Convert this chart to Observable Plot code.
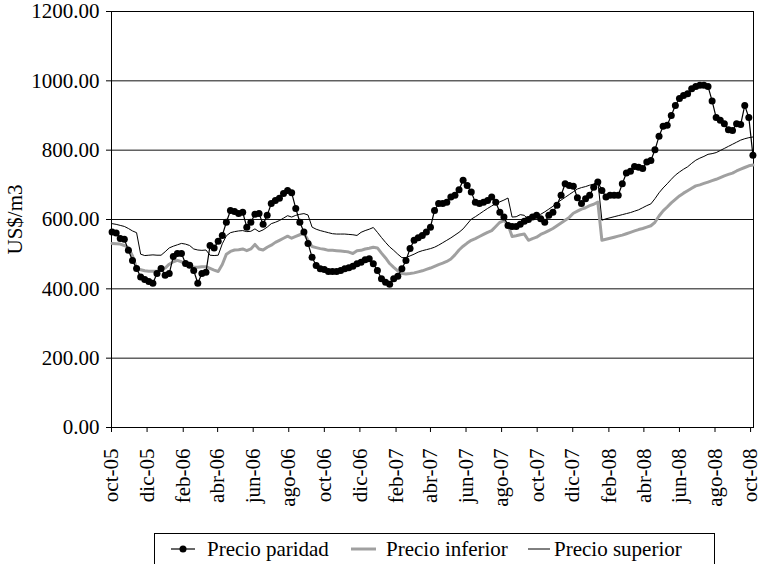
<!DOCTYPE html>
<html>
<head>
<meta charset="utf-8">
<script src="https://cdn.jsdelivr.net/npm/d3@7"></script>
<script src="https://cdn.jsdelivr.net/npm/@observablehq/plot@0.6"></script>
<style>
  html, body { margin: 0; padding: 0; background: #fff; }
  #wrap { position: relative; width: 763px; height: 564px; overflow: hidden; font-family: "Liberation Serif", "Times New Roman", serif; }
  #legend { position: absolute; left: 154px; top: 533px; width: 561px; height: 40px; border: 1px solid #000; box-sizing: border-box; font-size: 21px; color: #000; }
  #legend .item { position: absolute; top: 2px; height: 26px; line-height: 26px; white-space: nowrap; }
  #legend svg { position: absolute; top: 2px; }
</style>
</head>
<body>
<div id="wrap"></div>
<script>
// Weekly series (first week 2005-10-02)
const startDate = "2005-10-02";
const paridad = [
  564, 561, 545, 543, 511, 482, 459, 434, 427, 421,
  416, 444, 459, 439, 444, 493, 502, 502, 473, 468,
  453, 416, 444, 448, 525, 518, 537, 554, 592, 626,
  623, 617, 621, 578, 592, 615, 617, 586, 612, 646,
  655, 661, 675, 684, 677, 632, 592, 564, 531, 491,
  467, 458, 456, 450, 450, 450, 453, 458, 461, 465,
  472, 477, 484, 487, 472, 453, 429, 419, 413, 429,
  436, 458, 482, 516, 540, 547, 554, 564, 578, 626,
  646, 646, 650, 665, 670, 686, 713, 698, 679, 650,
  646, 650, 655, 665, 650, 621, 607, 583, 580, 580,
  586, 595, 600, 607, 612, 602, 592, 612, 621, 641,
  670, 703, 698, 696, 663, 646, 660, 670, 693, 708,
  684, 665, 670, 670, 670, 703, 734, 739, 753, 751,
  747, 766, 770, 801, 840, 869, 872, 900, 929, 949,
  958, 963, 977, 984, 987, 987, 984, 942, 894, 886,
  876, 859, 857, 876, 874, 929, 894, 785
];
const inferior = [
  531, 530, 529, 525, 519, 495, 460, 455, 452, 451,
  451, 451, 454, 460, 471, 478, 482, 478, 472, 467,
  462, 462, 464, 464, 459, 454, 450, 470, 500, 508,
  512, 513, 515, 510, 515, 528, 515, 512, 520, 526,
  534, 540, 546, 552, 546, 551, 556, 561, 540, 522,
  519, 516, 514, 511, 511, 510, 509, 508, 506, 502,
  510, 511, 515, 517, 520, 518, 503, 489, 473, 462,
  452, 444, 443, 444, 446, 449, 452, 456, 460, 465,
  470, 474, 479, 486, 498, 512, 523, 532, 540, 545,
  551, 557, 563, 568, 580, 592, 597, 585, 551, 553,
  556, 558, 540, 545, 549, 557, 562, 568, 574, 582,
  590, 598, 606, 618, 624, 630, 634, 640, 644, 650,
  540, 543, 546, 549, 552, 555, 559, 563, 567, 571,
  574, 578, 582, 592, 610, 625, 636, 648, 658, 668,
  676, 683, 690, 697, 700, 704, 708, 712, 716, 721,
  726, 730, 734, 740, 745, 750, 755, 757
];
const superior = [
  588, 586, 583, 580, 574, 567, 562, 500, 496, 497,
  498, 497, 497, 507, 518, 523, 527, 531, 529, 525,
  515, 512, 511, 512, 497, 496, 497, 530, 553, 562,
  565, 567, 568, 565, 566, 573, 565, 570, 578, 588,
  592, 597, 604, 611, 607, 612, 615, 617, 613, 578,
  572, 568, 565, 562, 559, 558, 558, 558, 557, 556,
  554, 563, 568, 572, 577, 563, 548, 534, 521, 511,
  500, 490, 490, 495, 500, 506, 510, 513, 516, 520,
  526, 533, 540, 547, 555, 563, 573, 587, 601, 608,
  616, 624, 632, 639, 646, 651, 656, 662, 607, 608,
  614, 612, 599, 606, 610, 615, 622, 630, 638, 648,
  656, 664, 672, 680, 688, 692, 695, 699, 702, 712,
  598, 602, 605, 608, 611, 614, 617, 620, 624, 628,
  634, 640, 645, 660, 677, 691, 703, 716, 728, 737,
  745, 752, 762, 771, 777, 782, 788, 790, 793, 799,
  805, 811, 817, 823, 829, 833, 836, 838
];
const xTickDates = [
  "2005-10-01", "2005-12-01", "2006-02-01", "2006-04-01", "2006-06-01", "2006-08-01",
  "2006-10-01", "2006-12-01", "2007-02-01", "2007-04-01", "2007-06-01", "2007-08-01",
  "2007-10-01", "2007-12-01", "2008-02-01", "2008-04-01", "2008-06-01", "2008-08-01",
  "2008-10-01"
];
const xTickLabels = [
  "oct-05", "dic-05", "feb-06", "abr-06", "jun-06", "ago-06",
  "oct-06", "dic-06", "feb-07", "abr-07", "jun-07", "ago-07",
  "oct-07", "dic-07", "feb-08", "abr-08", "jun-08", "ago-08",
  "oct-08"
];
const yTicks = [0, 200, 400, 600, 800, 1000, 1200];
const seriesNames = ["Precio paridad", "Precio inferior", "Precio superior"];
const yLabel = "US$/m3";

const start = new Date(startDate + "T00:00:00Z");
const rows = paridad.map((v, i) => ({
  date: d3.utcDay.offset(start, 7 * i),
  paridad: v,
  inferior: inferior[i],
  superior: superior[i]
}));
const tickDates = xTickDates.map(s => new Date(s + "T00:00:00Z"));
const labelOf = new Map(tickDates.map((d, i) => [+d, xTickLabels[i]]));

const chart = Plot.plot({
  width: 763,
  height: 564,
  marginLeft: 111,
  marginRight: 10,
  marginTop: 11,
  marginBottom: 137,
  style: { fontFamily: "'Liberation Serif', 'Times New Roman', serif", fontSize: "21px", color: "#000", background: "#fff", overflow: "visible" },
  x: { type: "utc", domain: [new Date("2005-10-01T00:00:00Z"), new Date("2008-10-06T00:00:00Z")] },
  y: { domain: [0, 1200] },
  marks: [
    Plot.ruleY(yTicks.filter(d => d > 0 && d < 1200), { stroke: "#111", strokeWidth: 1 }),
    Plot.frame({ stroke: "#000", strokeWidth: 1 }),
    Plot.axisY({ ticks: yTicks, tickFormat: d3.format(".2f"), tickSize: 5, tickPadding: 7, label: yLabel, labelAnchor: "center", labelArrow: "none", labelOffset: 104, stroke: "#000" }),
    Plot.axisX({ ticks: tickDates, tickFormat: d => labelOf.get(+d), tickRotate: -90, tickSize: 5, tickPadding: 16, label: null, stroke: "#000" }),
    Plot.line(rows, { x: "date", y: "inferior", stroke: "#a0a0a0", strokeWidth: 3 }),
    Plot.line(rows, { x: "date", y: "superior", stroke: "#000", strokeWidth: 1 }),
    Plot.line(rows, { x: "date", y: "paridad", stroke: "#000", strokeWidth: 1.2 }),
    Plot.dot(rows, { x: "date", y: "paridad", r: 3.5, fill: "#000" })
  ]
});

const wrap = document.getElementById("wrap");
wrap.appendChild(chart);

const legend = document.createElement("div");
legend.id = "legend";
legend.innerHTML = `
  <svg width="26" height="26" style="left:15px"><line x1="1" x2="25" y1="13" y2="13" stroke="#000" stroke-width="1.2"/><circle cx="13" cy="13" r="3.5" fill="#000"/></svg>
  <span class="item" style="left:52px">${seriesNames[0]}</span>
  <svg width="26" height="26" style="left:196px"><line x1="0" x2="25" y1="13" y2="13" stroke="#a0a0a0" stroke-width="3"/></svg>
  <span class="item" style="left:231px">${seriesNames[1]}</span>
  <svg width="26" height="26" style="left:373px"><line x1="0" x2="22" y1="13" y2="13" stroke="#000" stroke-width="1"/></svg>
  <span class="item" style="left:399px">${seriesNames[2]}</span>
`;
wrap.appendChild(legend);
</script>
</body>
</html>
